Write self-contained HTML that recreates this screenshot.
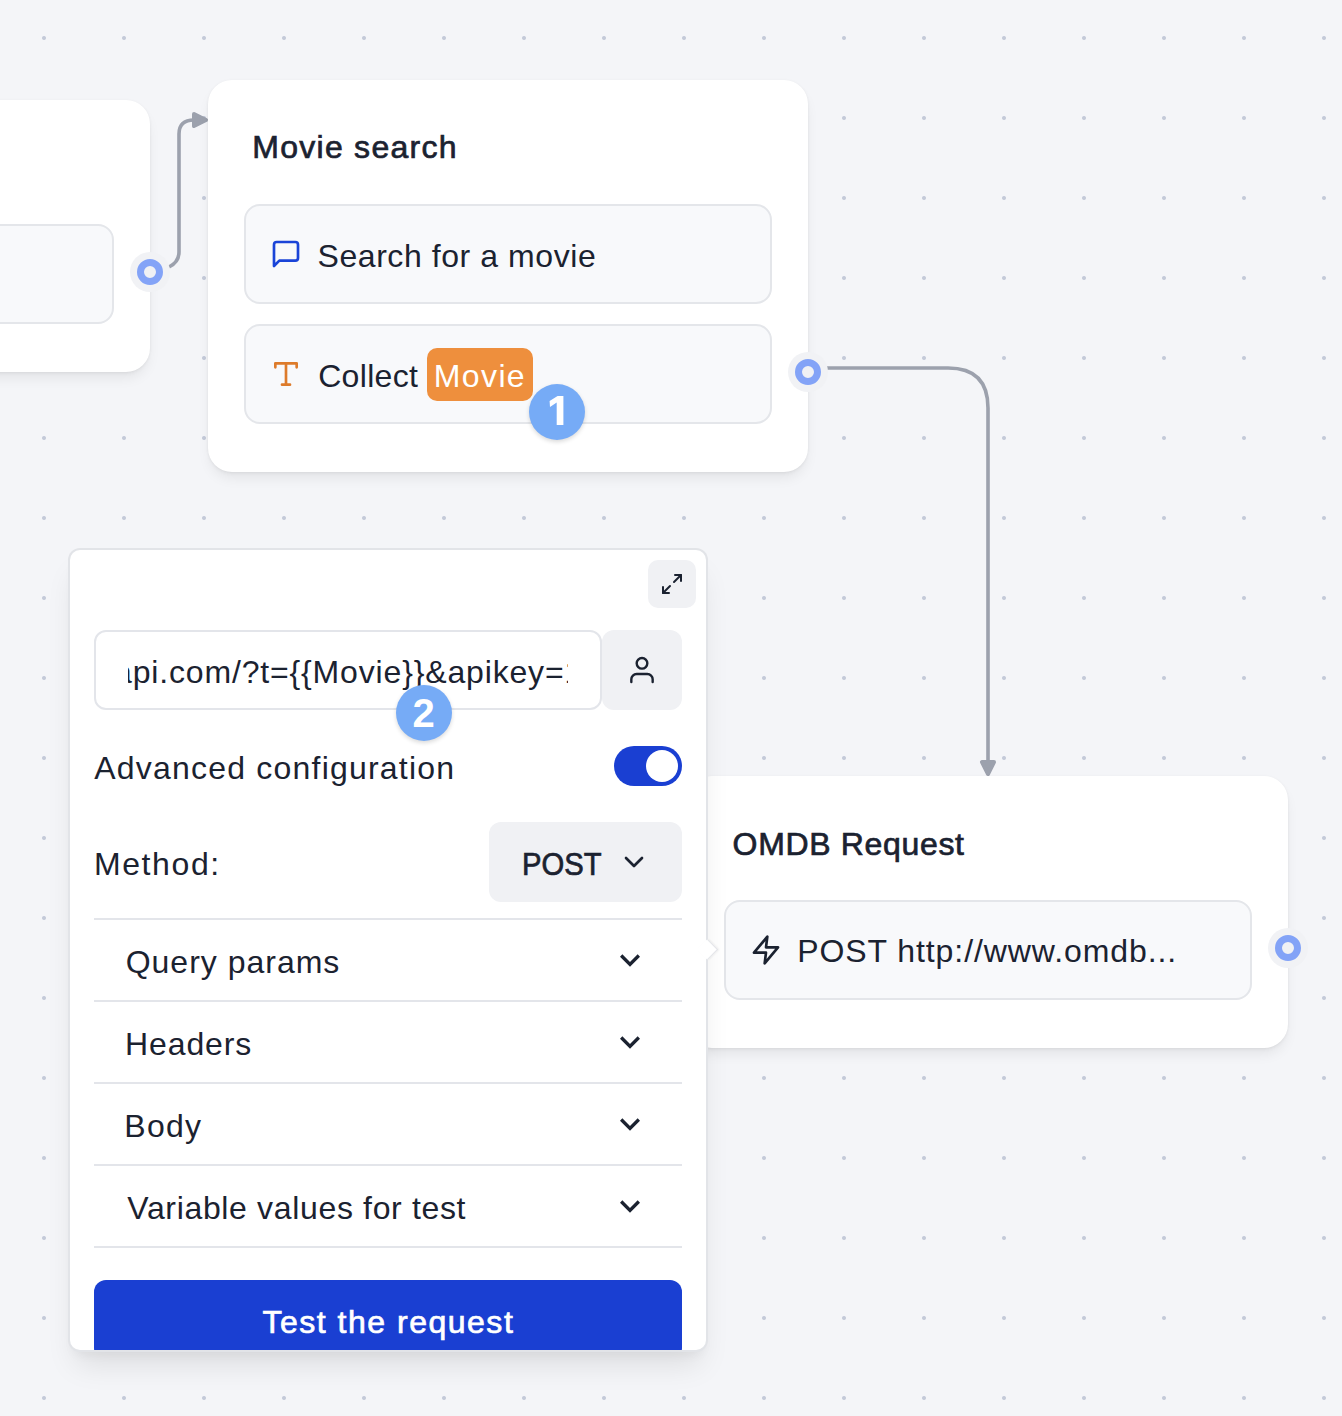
<!DOCTYPE html>
<html><head><meta charset="utf-8">
<style>
*{box-sizing:border-box;margin:0;padding:0}
html,body{width:1342px;height:1416px;overflow:hidden}
body{position:relative;background-color:#f4f5f8;
background-image:radial-gradient(circle at 40px 40px,#c4cad9 0,#c4cad9 1.5px,rgba(196,202,217,0) 2.4px);
background-size:80px 80px;background-position:4px -2px;
font-family:"Liberation Sans",sans-serif;color:#1b2230}
.abs{position:absolute}
.t{position:absolute;font-size:32px;line-height:32px;white-space:nowrap}
.sb{-webkit-text-stroke:0.7px currentColor}
.block{position:absolute;background:#fff;border-radius:24px;box-shadow:0 0 3px rgba(0,0,0,0.04),0 2px 4px -1px rgba(0,0,0,0.05),0 8px 14px -3px rgba(0,0,0,0.08)}
.item{position:absolute;background:#f8f9fb;border:2px solid #e4e6ea;border-radius:16px}
.port{position:absolute;width:40px;height:40px;border-radius:50%;background:#f1f2f5}
.port::after{content:"";position:absolute;left:7px;top:7px;width:26px;height:26px;border-radius:50%;box-sizing:border-box;border:7px solid #83a3f7;background:#f0f1f4}
.badge{position:absolute;width:56px;height:56px;border-radius:50%;background:#76abf6;color:#fff;font-weight:bold;font-size:40px;line-height:56px;text-align:center;box-shadow:0 2px 4px rgba(0,0,0,0.15)}
.chev{position:absolute;width:40px;height:40px}
.div{position:absolute;left:94px;width:588px;height:2px;background:#e3e5ea}
</style></head>
<body>

<!-- left block (mostly offscreen) -->
<div class="block" style="left:-450px;top:100px;width:600px;height:272px"></div>
<div class="item" style="left:-414px;top:224px;width:528px;height:100px"></div>

<!-- edges -->
<svg class="abs" style="left:0;top:0" width="1342" height="1416">
  <path d="M169 267 Q179 262 179 252 L179 134 Q179 120 194 120" fill="none" stroke="#9ca1ad" stroke-width="3.6"/>
  <path d="M194 114 L206 120 L194 126 Z" fill="#9ca1ad" stroke="#9ca1ad" stroke-width="4" stroke-linejoin="round"/>
  <path d="M827 368 L948 368 Q988 368 988 408 L988 762" fill="none" stroke="#9ca1ad" stroke-width="3.6"/>
  <path d="M982 762 L994 762 L988 774 Z" fill="#9ca1ad" stroke="#9ca1ad" stroke-width="4" stroke-linejoin="round"/>
</svg>

<div class="port" style="left:130px;top:252px"></div>

<!-- Movie search block -->
<div class="block" style="left:208px;top:80px;width:600px;height:392px"></div>
<div class="t sb" style="left:252.3px;top:131px;letter-spacing:1.263px">Movie search</div>
<div class="item" style="left:244px;top:204px;width:528px;height:100px"></div>
<svg class="abs" style="left:270px;top:238px" width="32" height="32" viewBox="0 0 24 24" fill="none" stroke="#1a44d8" stroke-width="2" stroke-linecap="round" stroke-linejoin="round"><path d="M21 15a2 2 0 0 1-2 2H7l-4 4V5a2 2 0 0 1 2-2h14a2 2 0 0 1 2 2z"/></svg>
<div class="t" style="left:317.5px;top:240px;letter-spacing:0.57px">Search for a movie</div>
<div class="item" style="left:244px;top:324px;width:528px;height:100px"></div>
<svg class="abs" style="left:270px;top:358px" width="32" height="32" viewBox="0 0 24 24" fill="none" stroke="#dd7b2b" stroke-width="2" stroke-linecap="round" stroke-linejoin="round"><polyline points="4 7 4 4 20 4 20 7"/><line x1="9" y1="20" x2="15" y2="20"/><line x1="12" y1="4" x2="12" y2="20"/></svg>
<div class="t" style="left:318.2px;top:360px;letter-spacing:0.317px">Collect</div>
<div class="abs" style="left:427px;top:348px;width:106px;height:53px;border-radius:10px;background:#ee8f3d"></div>
<div class="t" style="left:433.8px;top:360px;color:#fff;letter-spacing:1.375px">Movie</div>
<div class="port" style="left:788px;top:352px"></div>

<!-- OMDB block -->
<div class="block" style="left:688px;top:776px;width:600px;height:272px"></div>
<div class="t sb" style="left:732.6px;top:828px;letter-spacing:0.663px">OMDB Request</div>
<div class="item" style="left:724px;top:900px;width:528px;height:100px"></div>
<svg class="abs" style="left:750px;top:934px" width="32" height="32" viewBox="0 0 24 24" fill="none" stroke="#1b2230" stroke-width="2" stroke-linecap="round" stroke-linejoin="round"><polygon points="13 2 3 14 12 14 11 22 21 10 12 10 13 2"/></svg>
<div class="t" style="left:797.2px;top:935px;letter-spacing:0.927px">POST http://www.omdb...</div>
<div class="port" style="left:1268px;top:928px"></div>

<!-- popover -->
<div class="abs" style="left:70px;top:550px;width:636px;height:800px;background:#fff;border-radius:10px;box-shadow:0 0 0 2px #e2e4e8,0 20px 30px -6px rgba(0,0,0,0.1),0 8px 12px -4px rgba(0,0,0,0.05);overflow:hidden">
 <div style="position:absolute;left:-70px;top:-550px;width:1342px;height:1416px">
  <!-- expand button -->
  <div class="abs" style="left:648px;top:560px;width:48px;height:48px;border-radius:10px;background:#f0f1f4"></div>
  <svg class="abs" style="left:660px;top:572px" width="24" height="24" viewBox="0 0 24 24" fill="none" stroke="#1b2230" stroke-width="2" stroke-linecap="round" stroke-linejoin="round"><polyline points="15 3 21 3 21 9"/><polyline points="9 21 3 21 3 15"/><line x1="21" y1="3" x2="14" y2="10"/><line x1="3" y1="21" x2="10" y2="14"/></svg>
  <!-- url input -->
  <div class="abs" style="left:94px;top:630px;width:508px;height:80px;border:2px solid #e3e5ea;border-radius:12px;background:#fff"></div>
  <div class="abs" style="left:128px;top:640px;width:440px;height:60px;overflow:hidden">
    <div class="t" style="left:-14px;top:16px;letter-spacing:0.84px">api.com/?t={{Movie}}&amp;apikey=1</div>
  </div>
  <div class="abs" style="left:602px;top:630px;width:80px;height:80px;border-radius:12px;background:#f0f1f4"></div>
  <svg class="abs" style="left:626px;top:654px" width="32" height="32" viewBox="0 0 24 24" fill="none" stroke="#1b2230" stroke-width="1.8" stroke-linecap="round" stroke-linejoin="round"><path d="M20 21v-2a4 4 0 0 0-4-4H8a4 4 0 0 0-4 4v2"/><circle cx="12" cy="7" r="4"/></svg>
  <!-- advanced config -->
  <div class="t" style="left:94.3px;top:752px;letter-spacing:1.205px">Advanced configuration</div>
  <div class="abs" style="left:614px;top:746px;width:68px;height:40px;border-radius:20px;background:#1a3fd2"></div>
  <div class="abs" style="left:646px;top:750px;width:32px;height:32px;border-radius:50%;background:#fff"></div>
  <!-- method -->
  <div class="t" style="left:93.9px;top:848px;letter-spacing:1.616px">Method:</div>
  <div class="abs" style="left:489px;top:822px;width:193px;height:80px;border-radius:12px;background:#f0f1f4"></div>
  <div class="t sb" style="left:522.2px;top:848px;transform:scaleX(0.913);transform-origin:0 0">POST</div>
  <svg class="abs" style="left:618px;top:846px" width="32" height="32" viewBox="0 0 24 24" fill="none" stroke="#1b2230" stroke-width="2" stroke-linecap="round" stroke-linejoin="round"><polyline points="6 9 12 15 18 9"/></svg>
  <!-- accordion -->
  <div class="div" style="top:918px"></div>
  <div class="t" style="left:125.7px;top:946px;letter-spacing:0.99px">Query params</div>
  <svg class="chev" style="left:610px;top:940px" viewBox="0 0 24 24"><path fill="#1b2230" d="M16.59 8.59L12 13.17 7.41 8.59 6 10l6 6 6-6z"/></svg>
  <div class="div" style="top:1000px"></div>
  <div class="t" style="left:125px;top:1028px;letter-spacing:0.9px">Headers</div>
  <svg class="chev" style="left:610px;top:1022px" viewBox="0 0 24 24"><path fill="#1b2230" d="M16.59 8.59L12 13.17 7.41 8.59 6 10l6 6 6-6z"/></svg>
  <div class="div" style="top:1082px"></div>
  <div class="t" style="left:124.3px;top:1110px;letter-spacing:1.267px">Body</div>
  <svg class="chev" style="left:610px;top:1104px" viewBox="0 0 24 24"><path fill="#1b2230" d="M16.59 8.59L12 13.17 7.41 8.59 6 10l6 6 6-6z"/></svg>
  <div class="div" style="top:1164px"></div>
  <div class="t" style="left:127.3px;top:1192px;letter-spacing:0.656px">Variable values for test</div>
  <svg class="chev" style="left:610px;top:1186px" viewBox="0 0 24 24"><path fill="#1b2230" d="M16.59 8.59L12 13.17 7.41 8.59 6 10l6 6 6-6z"/></svg>
  <div class="div" style="top:1246px"></div>
  <!-- button -->
  <div class="abs" style="left:94px;top:1280px;width:588px;height:80px;border-radius:12px;background:#1a3fd2"></div>
  <div class="t sb" style="left:262.4px;top:1306px;color:#fff;letter-spacing:1.513px">Test the request</div>
 </div>
</div>
<!-- popover arrow -->
<div class="abs" style="left:699.8px;top:942px;width:15px;height:15px;background:#fff;transform:rotate(45deg);border-top:1.5px solid #e2e4e8;border-right:1.5px solid #e2e4e8;box-shadow:1px -1px 2px rgba(0,0,0,0.06)"></div>

<div class="badge" style="left:529.2px;top:383.5px"></div>
<svg class="abs" style="left:0;top:0" width="1342" height="1416"><polygon fill="#fff" points="563.4,396.1 563.4,425 556.7,425 556.7,402.6 550,406.9 549.6,401.1 557.6,396.1"/></svg>
<div class="badge" style="left:395.6px;top:685px">2</div>
</body></html>
